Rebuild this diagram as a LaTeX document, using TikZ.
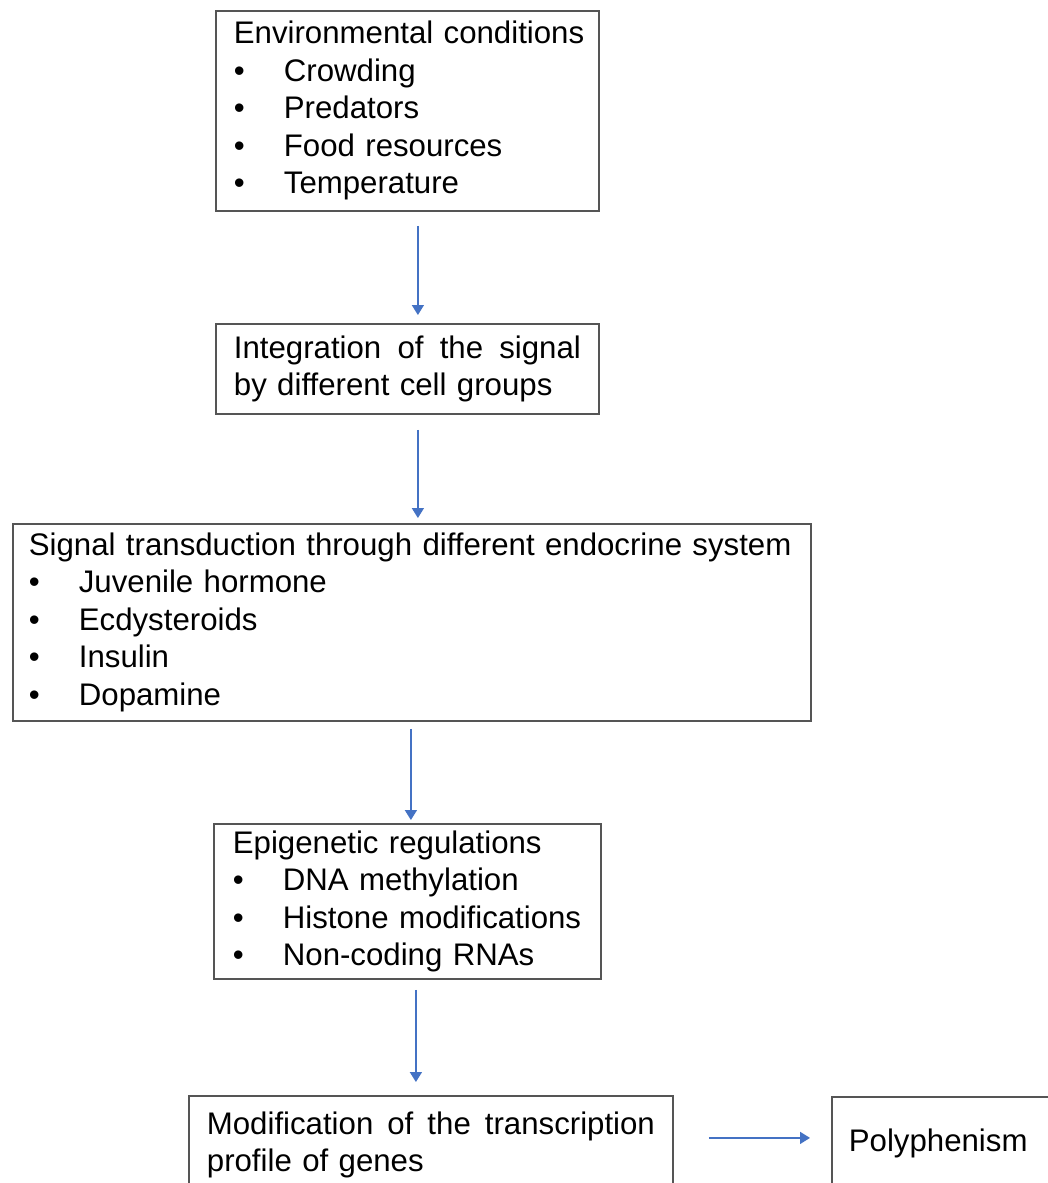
\documentclass[tikz,border=0pt]{standalone}
\usepackage{fontspec}
\setmainfont{Liberation Sans}
\usetikzlibrary{arrows.meta}

\definecolor{arrowblue}{HTML}{4472C4}
\definecolor{boxgray}{HTML}{555555}

\newcommand{\bul}[1]{\makebox[25pt][l]{\textbullet}#1}

\begin{document}
\begin{tikzpicture}[x = 0.5pt, y = -0.5pt, > = {Triangle[width = 6pt, length = 5pt]}, font = \fontsize{15.6}{18.75}\selectfont,
	box/.style = {draw = boxgray, line width = 0.9pt, anchor = north west, align = left, inner ysep = 0pt},
	flow/.style = {->, arrowblue, line width = 0.8pt}]

	% Page
	
	\useasboundingbox (0, 0) rectangle (1048, 1183);
	\fill [white] (0, 0) rectangle (1048, 1183);
	\clip (0, 0) rectangle (1048, 1183);
	
	% Boxes
	
	\node [box, minimum width = 191.5pt, minimum height = 100pt, text width = 173.5pt, inner xsep = 9pt] (env) at (215, 10)
		{\mbox{Environmental conditions}\\ \bul{Crowding}\\ \bul{Predators}\\ \bul{Food resources}\\ \bul{Temperature}};
	
	\node [box, minimum width = 191.5pt, minimum height = 45pt, text width = 173.5pt, inner xsep = 9pt] (integ) at (215, 323)
		{\makebox[173.5pt]{Integration\hfill of\hfill the\hfill signal}\\ by different cell groups};
	
	\node [box, minimum width = 399pt, minimum height = 98.5pt, text width = 383pt, inner xsep = 8pt] (endo) at (12, 523)
		{\mbox{Signal transduction through different endocrine system}\\ \bul{Juvenile hormone}\\ \bul{Ecdysteroids}\\ \bul{Insulin}\\ \bul{Dopamine}};
	
	\node [box, minimum width = 193.5pt, minimum height = 77.5pt, text width = 174.5pt, inner xsep = 9.5pt] (epi) at (213, 823)
		{Epigenetic regulations\\ \bul{DNA methylation}\\ \bul{Histone modifications}\\ \bul{Non-coding RNAs}};
	
	\node [box, minimum width = 242pt, minimum height = 49pt, text width = 224pt, inner xsep = 9pt] (gene) at (188, 1095)
		{\makebox[224pt]{Modification\hfill of\hfill the\hfill transcription}\\ profile of genes};
	
	\node [box, minimum width = 125pt, minimum height = 47pt, text width = 108pt, inner xsep = 8.5pt] (poly) at (831, 1096)
		{Polyphenism};
	
	% Arrows
	
	\draw [flow] ([xshift = 5.25pt, yshift = -7pt] env.south) -- ([xshift = 5.25pt, yshift = 4pt] integ.north);
	\draw [flow] ([xshift = 5.25pt, yshift = -7.5pt] integ.south) -- ([xshift = 3pt, yshift = 2.5pt] endo.north);
	\draw [flow] ([xshift = -0.5pt, yshift = -3.5pt] endo.south) -- ([xshift = 1.75pt, yshift = 1.5pt] epi.north);
	\draw [flow] ([xshift = 4.25pt, yshift = -5pt] epi.south) -- ([xshift = -7.5pt, yshift = 6.5pt] gene.north);
	\draw [flow] ([xshift = 17.5pt, yshift = 3.5pt] gene.east) -- ([xshift = -10.5pt, yshift = 3pt] poly.west);
	
\end{tikzpicture}
\end{document}
